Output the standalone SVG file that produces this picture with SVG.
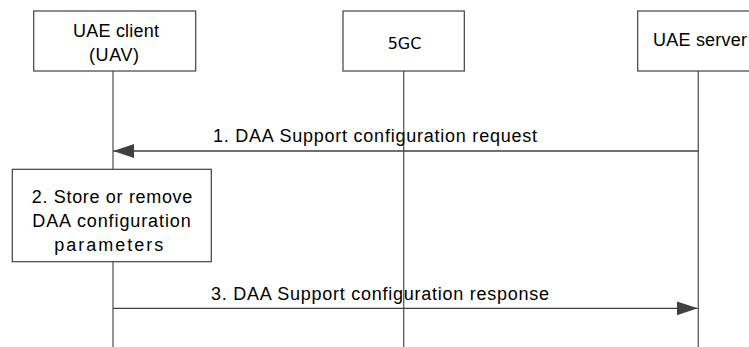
<svg xmlns="http://www.w3.org/2000/svg" width="749" height="347" viewBox="0 0 749 347">
  <style>
    .box { fill: #ffffff; stroke: #404040; stroke-width: 1.2; }
    .life { stroke: #5a5a5a; stroke-width: 1.3; fill: none; }
    .msg { stroke: #404040; stroke-width: 1.3; fill: none; }
    text { font-family: "Liberation Sans", Arial, sans-serif; font-size: 18px; fill: #000000; }
    .dv { font-family: "DejaVu Sans", Verdana, sans-serif; font-size: 16px; }
  </style>
  <defs>
    <marker id="arrow" markerUnits="userSpaceOnUse" markerWidth="21" markerHeight="15" refX="21" refY="7.5" orient="auto">
      <path d="M0,0.5 L21,7.5 L0,14.5 z" fill="#404040"/>
    </marker>
  </defs>
  <rect width="749" height="347" fill="#ffffff"/>

  <g id="lifelines">
    <line class="life" x1="113" y1="71" x2="113" y2="169"/>
    <line class="life" x1="113" y1="262" x2="113" y2="347"/>
    <line class="life" x1="403.7" y1="71" x2="403.7" y2="347"/>
    <line class="life" x1="698.3" y1="71" x2="698.3" y2="347"/>
  </g>

  <g id="uae-client">
    <rect class="box" x="33.7" y="11" width="162" height="60"/>
    <text x="73" y="36.7" textLength="86" lengthAdjust="spacing">UAE client</text>
    <text x="89" y="61" textLength="50" lengthAdjust="spacing">(UAV)</text>
  </g>

  <g id="fivegc">
    <rect class="box" x="343" y="11" width="121.3" height="60"/>
    <text class="dv" x="387.7" y="49">5GC</text>
  </g>

  <g id="uae-server">
    <rect class="box" x="637.7" y="11" width="121.3" height="60"/>
    <text x="653" y="45.7" textLength="94" lengthAdjust="spacing">UAE server</text>
  </g>

  <g id="step2">
    <rect class="box" x="12.3" y="169.3" width="199" height="92.4"/>
    <text x="31.7" y="202.7" textLength="160.6" lengthAdjust="spacing">2. Store or remove</text>
    <text x="32.3" y="226.7" textLength="158.4" lengthAdjust="spacing">DAA configuration</text>
    <text x="54.3" y="250.7" textLength="109" lengthAdjust="spacing">parameters</text>
  </g>

  <g id="connectors">
    <line class="msg" x1="698.3" y1="151" x2="113.3" y2="151" marker-end="url(#arrow)"/>
    <text x="213" y="142.3" textLength="324" lengthAdjust="spacing">1. DAA Support configuration request</text>
    <line class="msg" x1="113" y1="308.3" x2="697.7" y2="308.3" marker-end="url(#arrow)"/>
    <text x="211" y="300" textLength="338" lengthAdjust="spacing">3. DAA Support configuration response</text>
  </g>
</svg>
